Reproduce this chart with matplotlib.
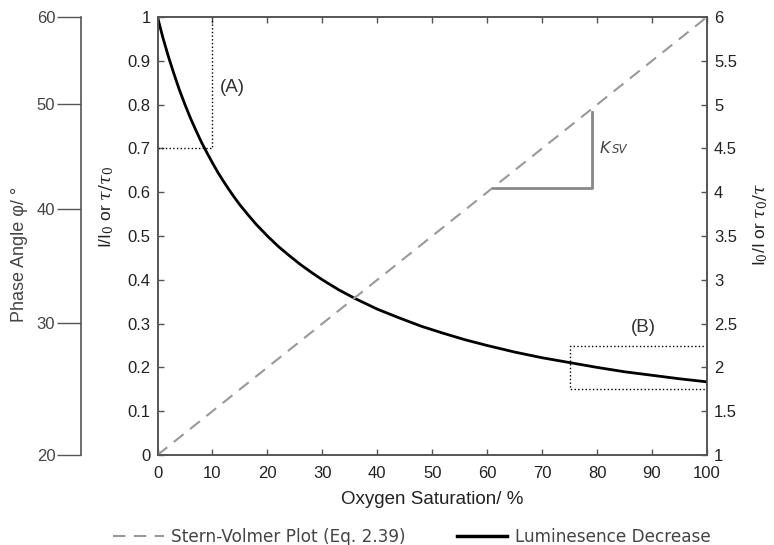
import matplotlib
matplotlib.use("Agg")
import matplotlib.pyplot as plt
from matplotlib.lines import Line2D

plt.rcParams['font.family'] = ['Liberation Sans', 'DejaVu Sans']
plt.rcParams['mathtext.fontset'] = 'dejavuserif'

fontsize = 12
txtcol = '#222222'
lblcol = '#444444'

# luminescence decrease
oxygen = [0, 1, 2, 3, 4, 5, 6, 7, 8, 9, 10, 11, 12, 13, 14, 15, 16.5, 18, 20,
          22, 24, 26, 28, 30, 33, 36, 40, 44, 48, 52, 56, 60, 65, 70, 75,
          80, 85, 90, 95, 100]
intensity = [1.0, 0.952, 0.909, 0.870, 0.833, 0.800, 0.769, 0.741, 0.714,
             0.690, 0.667, 0.645, 0.625, 0.606, 0.588, 0.571, 0.548, 0.526,
             0.500, 0.476, 0.455, 0.435, 0.417, 0.400, 0.377, 0.357, 0.333,
             0.313, 0.294, 0.278, 0.263, 0.250, 0.235, 0.222, 0.211, 0.200,
             0.190, 0.182, 0.174, 0.167]

# Stern-Volmer line (right axis)
sv_x = [0, 100]
sv_y = [1, 6]

# phase angle axis: labels and where they sit on the 0..1 height
phase_labels = [20, 30, 40, 50, 60]
phase_pos = [0.0, 0.301, 0.562, 0.801, 1.0]

# annotation boxes
boxA_x = [0, 10, 10]
boxA_y = [0.7, 0.7, 1.0]
boxB_x0, boxB_x1 = 75, 100
boxB_y0, boxB_y1 = 1.75, 2.25
ksv_x = [61, 79, 79]
ksv_y = [4.05, 4.05, 4.92]

fig = plt.figure(figsize=(7.74, 5.45), dpi=100)
L, B = 157.5/774, (545-455)/545
W, H = (707-157.5)/774, (455-17)/545
ax = fig.add_axes([L, B, W, H])
ax2 = ax.twinx()

ax.plot(oxygen, intensity, color='black', lw=2, zorder=5)
ax2.plot(sv_x, sv_y, color='#999999', lw=1.5, dashes=(6, 4))
ax.plot(boxA_x, boxA_y, color='black', ls=':', lw=1)
ax2.plot([boxB_x1, boxB_x0, boxB_x0, boxB_x1], [boxB_y1, boxB_y1, boxB_y0, boxB_y0],
         color='black', ls=':', lw=1)
ax2.plot(ksv_x, ksv_y, color='#888888', lw=2)

ax.text(11.4, 0.838, "(A)", fontsize=13.5, color='#333333', va='center')
ax2.text(86.2, 2.45, "(B)", fontsize=13.5, color='#333333', va='center')
ax2.text(80.5, 4.45, "K", fontsize=11.5, style='italic', color='#444444',
         family='DejaVu Sans', va='baseline')
ax2.text(82.7, 4.45, "SV", fontsize=8.5, style='italic', color='#444444',
         family='DejaVu Sans', va='baseline')

ax.set_xlim(0, 100)
ax.set_ylim(0, 1)
ax2.set_ylim(1, 6)
ax.set_xticks(range(0, 101, 10))
ax.set_yticks([i/10 for i in range(11)])
ax.set_yticklabels(['0'] + ['0.%d' % i for i in range(1, 10)] + ['1'])
ax2.set_yticks([1 + 0.5*i for i in range(11)])
ax2.set_yticklabels(['1', '1.5', '2', '2.5', '3', '3.5', '4', '4.5', '5', '5.5', '6'])

for a in (ax, ax2):
    for s in a.spines.values():
        s.set_color('#555555')
        s.set_linewidth(1.2)
    a.tick_params(direction='in', length=4, width=1, colors='#555555',
                  labelcolor=txtcol, labelsize=fontsize)
ax.tick_params(top=True)
ax.tick_params(axis='y', pad=5)
ax.tick_params(axis='x', pad=8)
ax2.tick_params(pad=5)

ax.set_xlabel("Oxygen Saturation/ %", fontsize=13.5, color=txtcol, labelpad=7)
ax.set_ylabel(r"I/I$_0$ or $\tau/\tau_0$", fontsize=12.5, color=txtcol)
ax.yaxis.set_label_coords(-0.076, 0.566)
ax2.set_ylabel(r"I$_0$/I or $\tau_0/\tau$", fontsize=12.5, color=txtcol)
ax2.yaxis.set_label_coords(1.08, 0.527)

# outer phase angle axis
ax3 = fig.add_axes([81/774, B, 0.0001, H])
for s in ['top', 'right', 'bottom']:
    ax3.spines[s].set_visible(False)
ax3.spines['left'].set_color('#555555')
ax3.spines['left'].set_linewidth(1.2)
ax3.set_xticks([])
ax3.set_ylim(0, 1)
ax3.set_yticks(phase_pos)
ax3.set_yticklabels([str(v) for v in phase_labels])
ax3.tick_params(axis='y', direction='out', length=17, width=1, colors='#555555',
                labelcolor='#444444', labelsize=fontsize, pad=1.5)
ax3.set_ylabel("Phase Angle \u03c6/ \u00b0", fontsize=13, color=lblcol)
ax3.yaxis.label.set_transform(matplotlib.transforms.blended_transform_factory(
    fig.transFigure, ax3.transAxes))
ax3.yaxis.set_label_coords(28/774, 0.459, transform=ax3.yaxis.label.get_transform())

handles = [Line2D([], [], color='#999999', lw=1.5, dashes=(6, 4)),
           Line2D([], [], color='black', lw=2.5)]
leg = fig.legend(handles, ["Stern-Volmer Plot (Eq. 2.39)", "Luminesence Decrease"],
                 loc='lower center', bbox_to_anchor=(0.532, -0.03), ncol=2,
                 frameon=False, handlelength=3, handletextpad=0.45,
                 columnspacing=3.0, prop={'family': 'DejaVu Sans', 'size': 12.2})
for t in leg.get_texts():
    t.set_color('#444444')

fig.savefig("out.png", dpi=100)
